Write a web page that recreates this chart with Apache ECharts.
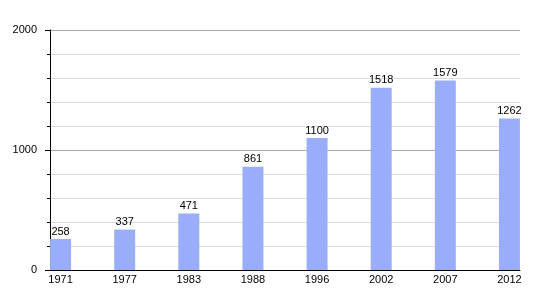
<!DOCTYPE html>
<html>
<head>
<meta charset="utf-8">
<script src="https://cdn.jsdelivr.net/npm/echarts@6/dist/echarts.min.js"></script>
<style>html,body{margin:0;padding:0;background:#fff}#c{width:550px;height:300px}</style>
</head>
<body>
<div id="c"></div>
<script>
var categories = ['1971','1977','1983','1988','1996','2002','2007','2012'];
var values = [258, 337, 471, 861, 1100, 1518, 1579, 1262];
var yTickLabels = ['0','1000','2000'];

var font = "'Liberation Sans', Arial, Helvetica, sans-serif";
var chart = echarts.init(document.getElementById('c'), null, {renderer:'canvas'});
chart.setOption({
  animation: false,
  backgroundColor: '#fff',
  grid: [
    {left: 28.5, right: 8.5, top: 30, bottom: 30},
    {left: 50, right: 30, top: 30, bottom: 30}
  ],
  xAxis: [
    {type: 'category', gridIndex: 0, data: categories, boundaryGap: true,
     axisLine: {show: false}, axisTick: {show: false},
     axisLabel: {color: '#000', fontFamily: font, fontSize: 11, margin: 4}},
    {type: 'value', gridIndex: 1, min: 0, max: 1,
     axisLine: {show: true, onZero: false, lineStyle: {color: '#000', width: 1}},
     axisTick: {show: false}, axisLabel: {show: false}, splitLine: {show: false}}
  ],
  yAxis: [
    {type: 'value', gridIndex: 0, min: 0, max: 2000, show: false},
    {type: 'value', gridIndex: 1, min: 0, max: 2000, interval: 1000,
     axisLine: {show: true, lineStyle: {color: '#000', width: 1}},
     axisTick: {show: true, length: 5, lineStyle: {color: '#000'}},
     minorTick: {show: true, splitNumber: 5, length: 3, lineStyle: {color: '#000'}},
     splitLine: {show: true, lineStyle: {color: '#aaaaaa', width: 1}},
     minorSplitLine: {show: true, lineStyle: {color: '#dddddd', width: 1}},
     axisLabel: {color: '#000', fontFamily: font, fontSize: 11, margin: 13,
       formatter: function (v) { var s = String(v); return yTickLabels.indexOf(s) >= 0 ? s : ''; }}}
  ],
  series: [{
    type: 'bar', xAxisIndex: 0, yAxisIndex: 0, data: values, barWidth: 21,
    itemStyle: {color: '#9aadfb'},
    label: {show: true, position: 'top', distance: 2, color: '#000', fontFamily: font, fontSize: 11}
  }]
});
</script>
</body>
</html>
